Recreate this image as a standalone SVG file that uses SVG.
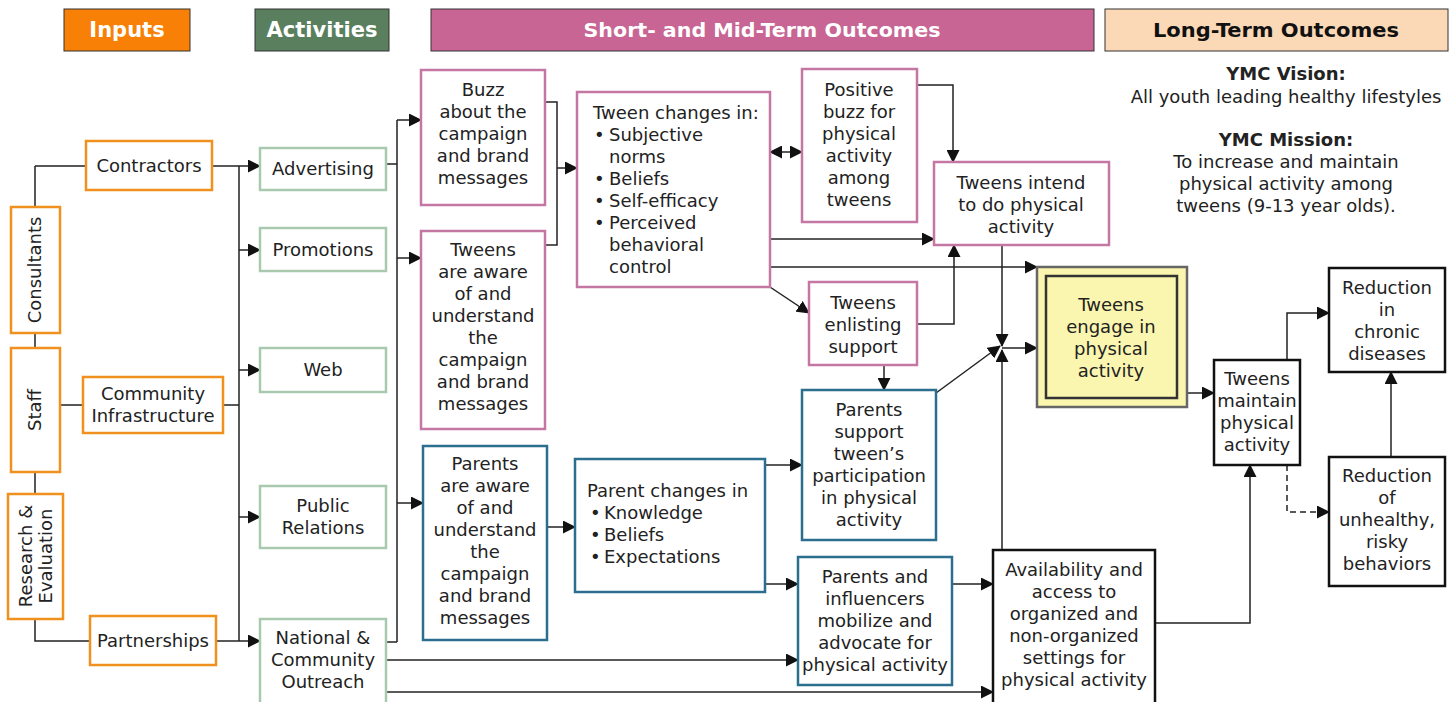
<svg xmlns="http://www.w3.org/2000/svg" width="1450" height="702" viewBox="0 0 1450 702">
<defs>
<marker id="ah" markerUnits="userSpaceOnUse" markerWidth="13" markerHeight="13" refX="12" refY="6.5" orient="auto">
<path d="M0,0 L13,6.5 L0,13 z" fill="#111"/>
</marker>
<marker id="ahs" markerUnits="userSpaceOnUse" markerWidth="13" markerHeight="13" refX="1" refY="6.5" orient="auto">
<path d="M13,0 L0,6.5 L13,13 z" fill="#111"/>
</marker>
<style>
.t{font-family:"DejaVu Sans",Verdana,sans-serif;font-size:18px;fill:#222;text-anchor:middle}
.tl{font-family:"DejaVu Sans",Verdana,sans-serif;font-size:18px;fill:#222}
.b{font-weight:bold}
.hd{font-family:"DejaVu Sans",Verdana,sans-serif;font-size:21px;font-weight:bold;text-anchor:middle}
.hc{font-family:"DejaVu Sans Condensed","DejaVu Sans",sans-serif;font-stretch:condensed;font-size:20px;font-weight:bold;text-anchor:middle}
.in{fill:#fff;stroke:#F0901E;stroke-width:2.5}
.ac{fill:#fff;stroke:#A9C9AE;stroke-width:2.5}
.pk{fill:#fff;stroke:#C477A3;stroke-width:2.5}
.bl{fill:#fff;stroke:#2C6E8E;stroke-width:2.5}
.bk{fill:#fff;stroke:#111;stroke-width:2.5}
.c{fill:none;stroke:#222;stroke-width:1.5}
.a{marker-end:url(#ah)}
</style>
</defs>
<rect width="1450" height="702" fill="#fff"/>

<g id="headers">
<rect x="64" y="9" width="126" height="42" fill="#F98006" stroke="#333" stroke-width="1"/>
<text class="hd" x="127" y="37" fill="#fff">Inputs</text>
<rect x="255" y="9" width="134" height="42" fill="#5A7F5E" stroke="#333" stroke-width="1"/>
<text class="hd" x="322" y="37" fill="#fff">Activities</text>
<rect x="431" y="9" width="663" height="42" fill="#C86594" stroke="#333" stroke-width="1"/>
<text class="hc" x="762" y="37" fill="#fff" textLength="357" lengthAdjust="spacingAndGlyphs">Short- and Mid-Term Outcomes</text>
<rect x="1105" y="9" width="343" height="42" fill="#FCD9B6" stroke="#333" stroke-width="1"/>
<text class="hc" x="1276" y="37" fill="#111" textLength="246" lengthAdjust="spacingAndGlyphs">Long-Term Outcomes</text>
</g>

<g id="connectors">
<path class="c" d="M35,166 L86,166 M35,166 L35,207 M35,333 L35,348 M35,472 L35,494 M35,619 L35,641 L90,641 M60,405 L83,405"/>
<path class="c" d="M239,166 L239,641 M223,405 L239,405"/>
<path class="c a" d="M212,166 L260,166"/>
<path class="c a" d="M239,250 L260,250"/>
<path class="c a" d="M239,370 L260,370"/>
<path class="c a" d="M239,517 L260,517"/>
<path class="c a" d="M216,641 L260,641"/>
<path class="c" d="M386,164 L397,164 M386,642 L397,642 M397,120 L397,642"/>
<path class="c a" d="M397,120 L421,120"/>
<path class="c a" d="M397,258 L421,258"/>
<path class="c a" d="M397,503 L423,503"/>
<path class="c a" d="M386,660 L798,660"/>
<path class="c a" d="M386,692 L993,692"/>
<path class="c" d="M545,102 L557,102 L557,245 L545,245"/>
<path class="c a" d="M557,168 L577,168"/>
<path class="c a" d="M770,152 L802,152" marker-start="url(#ahs)"/>
<path class="c a" d="M770,239 L934,239"/>
<path class="c a" d="M770,267 L1037,267"/>
<path class="c a" d="M770,287 L809,313"/>
<path class="c a" d="M917,85 L953,85 L953,162"/>
<path class="c a" d="M917,324 L954,324 L954,245"/>
<path class="c a" d="M1002,245 L1002,346"/>
<path class="c a" d="M1002,550 L1002,350"/>
<path class="c a" d="M936,393 L1000,346"/>
<path class="c a" d="M1002,348 L1037,348"/>
<path class="c a" d="M884,365 L884,390"/>
<path class="c a" d="M547,527 L575,527"/>
<path class="c a" d="M765,465 L802,465"/>
<path class="c a" d="M765,584 L798,584"/>
<path class="c a" d="M952,584 L993,584"/>
<path class="c a" d="M1187,393 L1214,393"/>
<path class="c a" d="M1155,623 L1250,623 L1250,465"/>
<path class="c a" d="M1287,360 L1287,313 L1329,313"/>
<path class="c a" d="M1287,465 L1287,512 L1329,512" stroke-dasharray="6,4"/>
<path class="c a" d="M1391,457 L1391,372"/>
</g>

<g id="contractors"><rect class="in" x="86" y="141" width="126" height="49"/><text class="t" x="149" y="172">Contractors</text></g>
<g id="consultants"><rect class="in" x="11" y="207" width="49" height="126"/><text class="t" transform="translate(41,270) rotate(-90)">Consultants</text></g>
<g id="staff"><rect class="in" x="11" y="348" width="49" height="124"/><text class="t" transform="translate(41,410) rotate(-90)">Staff</text></g>
<g id="research"><rect class="in" x="8" y="494" width="55" height="125"/><text class="t" transform="translate(32,556) rotate(-90)"><tspan x="0" y="0">Research &amp;</tspan><tspan x="0" y="20">Evaluation</tspan></text></g>
<g id="community"><rect class="in" x="83" y="377" width="140" height="56"/><text class="t" x="153" y="400">Community<tspan x="153" dy="22">Infrastructure</tspan></text></g>
<g id="partnerships"><rect class="in" x="90" y="616" width="126" height="49"/><text class="t" x="153" y="647">Partnerships</text></g>

<g id="advertising"><rect class="ac" x="260" y="148" width="126" height="42"/><text class="t" x="323" y="175">Advertising</text></g>
<g id="promotions"><rect class="ac" x="260" y="228" width="126" height="43"/><text class="t" x="323" y="256">Promotions</text></g>
<g id="web"><rect class="ac" x="260" y="348" width="126" height="44"/><text class="t" x="323" y="376">Web</text></g>
<g id="publicrelations"><rect class="ac" x="260" y="486" width="126" height="62"/><text class="t" x="323" y="512">Public<tspan x="323" dy="22">Relations</tspan></text></g>
<g id="outreach"><rect class="ac" x="260" y="619" width="126" height="90"/><text class="t" x="323" y="644">National &amp;<tspan x="323" dy="22">Community</tspan><tspan x="323" dy="22">Outreach</tspan></text></g>

<g id="buzz"><rect class="pk" x="421" y="70" width="124" height="135"/><text class="t" x="483" y="96">Buzz<tspan x="483" dy="22">about the</tspan><tspan x="483" dy="22">campaign</tspan><tspan x="483" dy="22">and brand</tspan><tspan x="483" dy="22">messages</tspan></text></g>
<g id="tweensaware"><rect class="pk" x="421" y="231" width="124" height="198"/><text class="t" x="483" y="256">Tweens<tspan x="483" dy="22">are aware</tspan><tspan x="483" dy="22">of and</tspan><tspan x="483" dy="22">understand</tspan><tspan x="483" dy="22">the</tspan><tspan x="483" dy="22">campaign</tspan><tspan x="483" dy="22">and brand</tspan><tspan x="483" dy="22">messages</tspan></text></g>
<g id="tweenchanges"><rect class="pk" x="577" y="92" width="193" height="195"/><text class="tl" x="593" y="119">Tween changes in:<tspan x="594" dy="22">•</tspan><tspan x="609">Subjective</tspan><tspan x="609" dy="22">norms</tspan><tspan x="594" dy="22">•</tspan><tspan x="609">Beliefs</tspan><tspan x="594" dy="22">•</tspan><tspan x="609">Self-efficacy</tspan><tspan x="594" dy="22">•</tspan><tspan x="609">Perceived</tspan><tspan x="609" dy="22">behavioral</tspan><tspan x="609" dy="22">control</tspan></text></g>
<g id="positivebuzz"><rect class="pk" x="802" y="69" width="115" height="153"/><text class="t" x="859" y="96">Positive<tspan x="859" dy="22">buzz for</tspan><tspan x="859" dy="22">physical</tspan><tspan x="859" dy="22">activity</tspan><tspan x="859" dy="22">among</tspan><tspan x="859" dy="22">tweens</tspan></text></g>
<g id="tweensintend"><rect class="pk" x="934" y="162" width="175" height="83"/><text class="t" x="1021" y="189">Tweens intend<tspan x="1021" dy="22">to do physical</tspan><tspan x="1021" dy="22">activity</tspan></text></g>
<g id="tweensenlisting"><rect class="pk" x="809" y="282" width="108" height="83"/><text class="t" x="863" y="309">Tweens<tspan x="863" dy="22">enlisting</tspan><tspan x="863" dy="22">support</tspan></text></g>
<g id="tweensengage"><rect x="1037" y="267" width="150" height="140" fill="#FAF6B0" stroke="#666" stroke-width="2.5"/><rect x="1046" y="276" width="131" height="122" fill="#FAF6B0" stroke="#333" stroke-width="2.5"/><text class="t" x="1111" y="311">Tweens<tspan x="1111" dy="22">engage in</tspan><tspan x="1111" dy="22">physical</tspan><tspan x="1111" dy="22">activity</tspan></text></g>

<g id="parentsaware"><rect class="bl" x="423" y="446" width="124" height="194"/><text class="t" x="485" y="470">Parents<tspan x="485" dy="22">are aware</tspan><tspan x="485" dy="22">of and</tspan><tspan x="485" dy="22">understand</tspan><tspan x="485" dy="22">the</tspan><tspan x="485" dy="22">campaign</tspan><tspan x="485" dy="22">and brand</tspan><tspan x="485" dy="22">messages</tspan></text></g>
<g id="parentchanges"><rect class="bl" x="575" y="459" width="190" height="133"/><text class="tl" x="587" y="497">Parent changes in<tspan x="590" dy="22">•</tspan><tspan x="604">Knowledge</tspan><tspan x="590" dy="22">•</tspan><tspan x="604">Beliefs</tspan><tspan x="590" dy="22">•</tspan><tspan x="604">Expectations</tspan></text></g>
<g id="parentssupport"><rect class="bl" x="802" y="390" width="134" height="150"/><text class="t" x="869" y="416">Parents<tspan x="869" dy="22">support</tspan><tspan x="869" dy="22">tween’s</tspan><tspan x="869" dy="22">participation</tspan><tspan x="869" dy="22">in physical</tspan><tspan x="869" dy="22">activity</tspan></text></g>
<g id="parentsinfluencers"><rect class="bl" x="798" y="557" width="154" height="128"/><text class="t" x="875" y="583">Parents and<tspan x="875" dy="22">influencers</tspan><tspan x="875" dy="22">mobilize and</tspan><tspan x="875" dy="22">advocate for</tspan><tspan x="875" dy="22">physical activity</tspan></text></g>
<g id="availability"><rect class="bk" x="993" y="550" width="162" height="155"/><text class="t" x="1074" y="576">Availability and<tspan x="1074" dy="22">access to</tspan><tspan x="1074" dy="22">organized and</tspan><tspan x="1074" dy="22">non-organized</tspan><tspan x="1074" dy="22">settings for</tspan><tspan x="1074" dy="22">physical activity</tspan></text></g>

<g id="tweensmaintain"><rect class="bk" x="1214" y="360" width="86" height="105"/><text class="t" x="1257" y="385">Tweens<tspan x="1257" dy="22">maintain</tspan><tspan x="1257" dy="22">physical</tspan><tspan x="1257" dy="22">activity</tspan></text></g>
<g id="reductionchronic"><rect class="bk" x="1329" y="268" width="116" height="104"/><text class="t" x="1387" y="294">Reduction<tspan x="1387" dy="22">in</tspan><tspan x="1387" dy="22">chronic</tspan><tspan x="1387" dy="22">diseases</tspan></text></g>
<g id="reductionrisky"><rect class="bk" x="1329" y="457" width="116" height="129"/><text class="t" x="1387" y="482">Reduction<tspan x="1387" dy="22">of</tspan><tspan x="1387" dy="22">unhealthy,</tspan><tspan x="1387" dy="22">risky</tspan><tspan x="1387" dy="22">behaviors</tspan></text></g>

<g id="vision"><text class="t" x="1286" y="80"><tspan class="b">YMC Vision:</tspan><tspan x="1286" dy="23">All youth leading healthy lifestyles</tspan></text>
<text class="t" x="1286" y="146"><tspan class="b">YMC Mission:</tspan><tspan x="1286" dy="22">To increase and maintain</tspan><tspan x="1286" dy="22">physical activity among</tspan><tspan x="1286" dy="22">tweens (9-13 year olds).</tspan></text></g>
</svg>
